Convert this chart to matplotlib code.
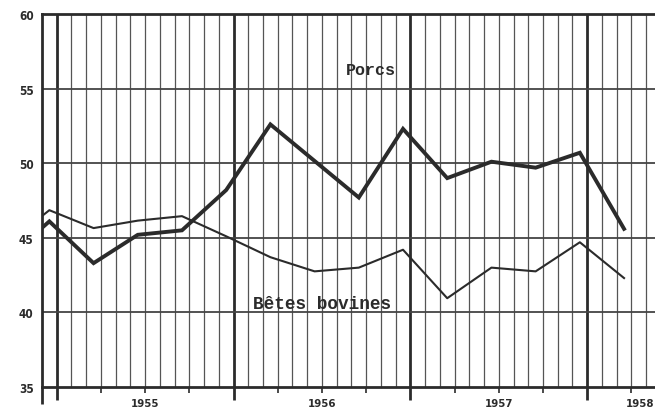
import numpy as np
import matplotlib
matplotlib.use("Agg")
import matplotlib.pyplot as plt
from matplotlib.transforms import blended_transform_factory

# quarterly series, plotted in the last month of each quarter
# (months counted from January 1955; Q3 1954 .. Q1 1958)
quarters = ['1954-T3', '1954-T4',
            '1955-T1', '1955-T2', '1955-T3', '1955-T4',
            '1956-T1', '1956-T2', '1956-T3', '1956-T4',
            '1957-T1', '1957-T2', '1957-T3', '1957-T4',
            '1958-T1']
porcs = [43.5, 46.1, 43.3, 45.2, 45.5, 48.2, 52.6, 50.15,
         47.7, 52.3, 49.0, 50.1, 49.7, 50.7, 45.6]
bovines = [44.5, 46.85, 45.65, 46.15, 46.45, 45.1, 43.7, 42.75,
           43.0, 44.2, 40.95, 43.0, 42.75, 44.7, 42.3]
years = ['1955', '1956', '1957', '1958']
yticks = [35, 40, 45, 50, 55, 60]

ink = '#2b2b2b'
month = np.arange(len(quarters)) * 3 - 3.5   # mid of last month of quarter

fig = plt.figure(figsize=(6.55, 4.10), dpi=100)
ax = fig.add_axes([0.0641, 0.0537, 0.9359, 0.9097])
ax.set_xlim(-1, 40.6)
ax.set_ylim(35, 60)

# monthly grid, year lines thicker
for m in range(0, 41):
    if m % 12 == 0:
        ax.axvline(m, color=ink, lw=2.0, zorder=1)
    else:
        ax.axvline(m, color='#555555', lw=0.9, zorder=1)
for v in yticks[1:-1]:
    ax.axhline(v, color='#444444', lw=1.3, zorder=1)

ax.plot(month, bovines, color=ink, lw=1.5, zorder=3)
ax.plot(month, porcs, color=ink, lw=2.8, zorder=4, solid_joinstyle='miter')

ax.text(21.3, 56.3, 'Porcs', family='Liberation Mono', weight='bold',
        fontsize=12, color=ink, ha='center', va='center', zorder=5)
ax.text(18.0, 40.6, 'Bêtes bovines', family='Liberation Mono', weight='bold',
        fontsize=12.8, color=ink, ha='center', va='center', zorder=5)

# spines
ax.spines['right'].set_visible(False)
for s in ['left', 'bottom', 'top']:
    ax.spines[s].set_linewidth(2.0)
    ax.spines[s].set_color(ink)

ax.set_yticks(yticks)
ax.set_yticklabels([str(v) for v in yticks], fontsize=8.5, weight='bold',
                   color=ink, fontstretch='condensed')
ax.tick_params(axis='y', length=0, pad=6)

# quarterly ticks below the axis, longer at year starts
ax.set_xticks([0, 12, 24, 36])
ax.set_xticks([m for m in range(0, 41, 3) if m % 12], minor=True)
ax.tick_params(axis='x', which='major', length=9, width=2.0, color=ink,
               labelbottom=False)
ax.tick_params(axis='x', which='minor', length=4, width=1.2, color=ink)

trans = blended_transform_factory(ax.transData, ax.transAxes)
for i, yr in enumerate(years):
    ax.text(min(6 + 12 * i, 39.6), -0.043, yr, transform=trans,
            ha='center', va='center', fontsize=8.2, weight='bold',
            color=ink, fontstretch='condensed')
# left spine runs below the frame
ax.plot([-1, -1], [0, -0.045], transform=trans, color=ink, lw=2.0,
        clip_on=False, solid_capstyle='butt')

fig.savefig('out.png', dpi=100)
